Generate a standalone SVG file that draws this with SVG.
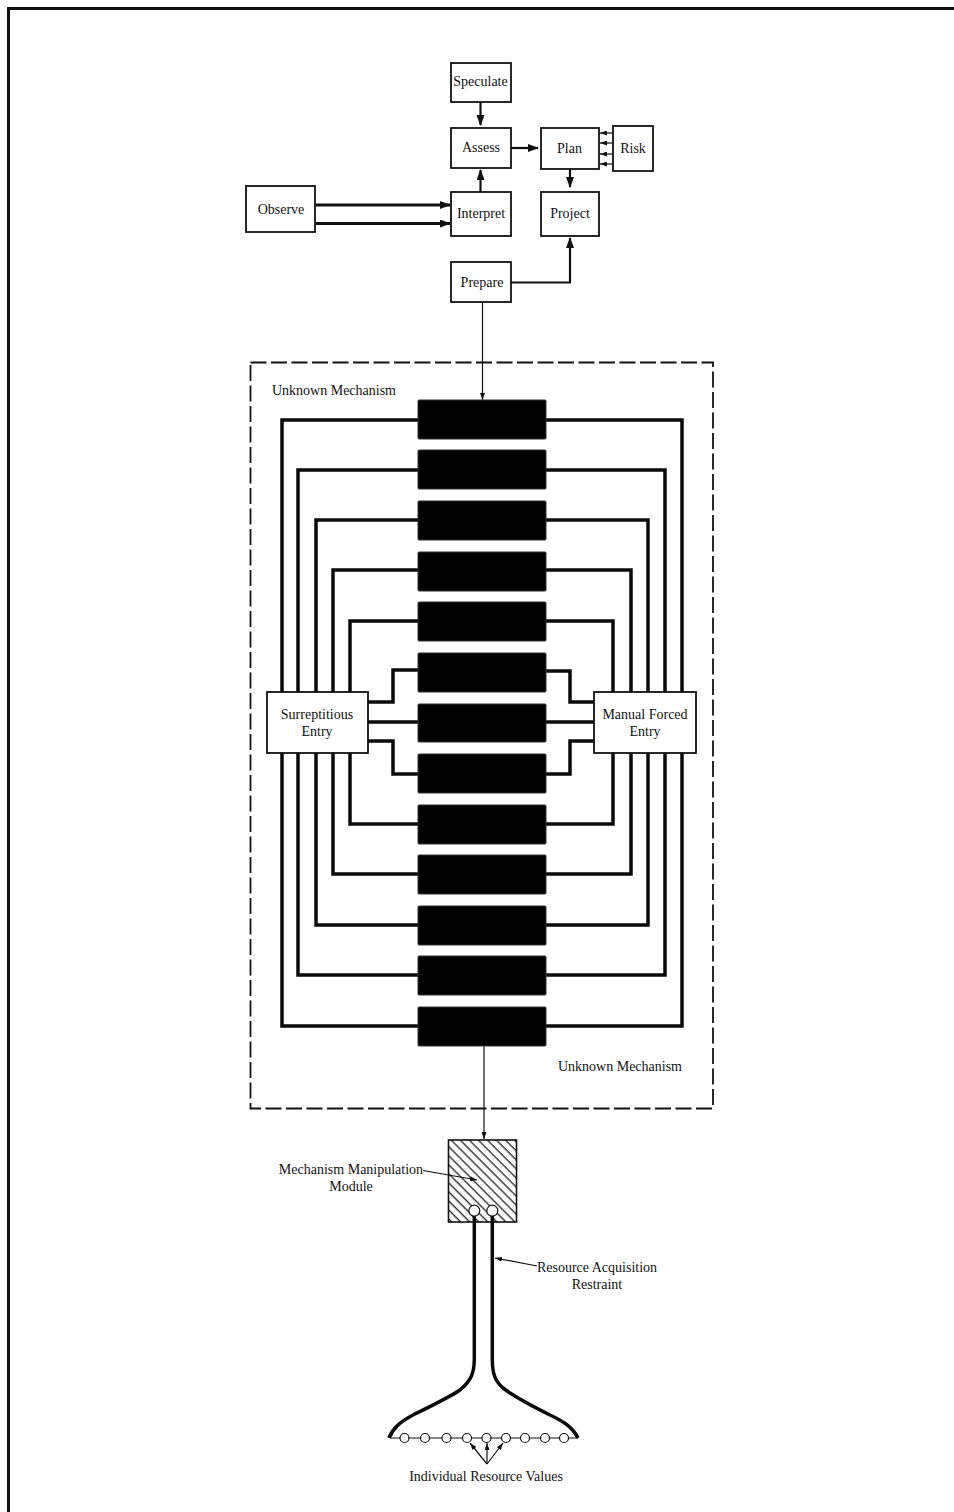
<svg xmlns="http://www.w3.org/2000/svg" width="954" height="1512" viewBox="0 0 954 1512">
<style>
.t{font-family:"Liberation Serif","Times New Roman",serif;font-size:14px;fill:#111;text-anchor:middle}
.b{fill:#fff;stroke:#111;stroke-width:1.8}
.k{fill:#000;stroke:#333;stroke-width:1}
.w{fill:none;stroke:#0a0a0a;stroke-width:3.5}
.a{fill:none;stroke:#111;stroke-width:2.2}
.o{fill:none;stroke:#111;stroke-width:2.8}
.n{fill:none;stroke:#111;stroke-width:1.2}
.c{fill:#fff;stroke:#111;stroke-width:1.2}
</style>
<defs>
<marker id="ah" markerWidth="11" markerHeight="8" refX="10" refY="4" orient="auto" markerUnits="userSpaceOnUse"><path d="M0 0L11 4L0 8Z" fill="#111"/></marker>
<marker id="as" markerWidth="7" markerHeight="5" refX="7" refY="2.5" orient="auto" markerUnits="userSpaceOnUse"><path d="M0 0L7 2.5L0 5Z" fill="#111"/></marker>
<pattern id="hatch" width="6.4" height="6.4" patternUnits="userSpaceOnUse" patternTransform="rotate(45)"><rect width="6.4" height="6.4" fill="#fff"/><line x1="0" y1="0.7" x2="6.4" y2="0.7" stroke="#222" stroke-width="1.3"/></pattern>
</defs>
<rect width="954" height="1512" fill="#fff"/>
<path id="frame" d="M8.500 1512V8.500H954" fill="none" stroke="#111" stroke-width="3"/>
<rect id="boundary" x="250.500" y="362.500" width="462.500" height="746" fill="none" stroke="#111" stroke-width="1.800" stroke-dasharray="16 4.500"/>
<g id="connectors">
<path class="a" marker-end="url(#ah)" d="M480.500 102V125"/>
<path class="a" marker-end="url(#ah)" d="M511 148H538"/>
<path class="a" marker-end="url(#ah)" d="M480.500 192V170"/>
<path class="a" marker-end="url(#ah)" d="M570 168V187"/>
<path class="o" marker-end="url(#ah)" d="M316 205H450"/>
<path class="o" marker-end="url(#ah)" d="M316 223.500H450"/>
<path class="a" marker-end="url(#ah)" d="M511 282.500H570V238"/>
<path class="n" marker-end="url(#as)" d="M612 133H600"/>
<path class="n" marker-end="url(#as)" d="M612 143H600"/>
<path class="n" marker-end="url(#as)" d="M612 154H600"/>
<path class="n" marker-end="url(#as)" d="M612 164H600"/>
<path class="n" marker-end="url(#as)" d="M482.500 302V400"/>
<path class="n" marker-end="url(#as)" d="M484 1045V1139"/>
<path class="w" d="M418 420H282V1026H418"/>
<path class="w" d="M418 470H298V975H418"/>
<path class="w" d="M418 520H316V925H418"/>
<path class="w" d="M418 570H333V874H418"/>
<path class="w" d="M418 621H350V824H418"/>
<path class="w" d="M546 420H682V1026H546"/>
<path class="w" d="M546 470H665V975H546"/>
<path class="w" d="M546 520H648V925H546"/>
<path class="w" d="M546 570H631V874H546"/>
<path class="w" d="M546 621H613V824H546"/>
<path class="w" d="M368 702H393V670H418"/>
<path class="w" d="M368 722H418"/>
<path class="w" d="M368 741H393V774H418"/>
<path class="w" d="M546 671H570V702H594"/>
<path class="w" d="M546 722H594"/>
<path class="w" d="M546 774H570V741H594"/>
<path class="n" d="M390 1438H578"/>
<path class="n" marker-end="url(#as)" d="M487 1464L470 1443"/>
<path class="n" marker-end="url(#as)" d="M487 1464V1443"/>
<path class="n" marker-end="url(#as)" d="M487 1464L503 1443"/>
</g>
<g id="speculate"><rect class="b" x="451" y="63" width="60" height="39"/><text class="t" x="480.500" y="86">Speculate</text></g>
<g id="assess"><rect class="b" x="451" y="128" width="60" height="40"/><text class="t" x="481" y="152">Assess</text></g>
<g id="plan"><rect class="b" x="541" y="128" width="58" height="41"/><text class="t" x="569.500" y="153">Plan</text></g>
<g id="risk"><rect class="b" x="613" y="126" width="40" height="45"/><text class="t" x="633" y="153">Risk</text></g>
<g id="observe"><rect class="b" x="246" y="186" width="69" height="46"/><text class="t" x="281" y="214">Observe</text></g>
<g id="interpret"><rect class="b" x="451" y="192" width="60" height="44"/><text class="t" x="481" y="218">Interpret</text></g>
<g id="project"><rect class="b" x="541" y="192" width="58" height="44"/><text class="t" x="570" y="218">Project</text></g>
<g id="prepare"><rect class="b" x="451" y="262" width="60" height="40"/><text class="t" x="482" y="287">Prepare</text></g>
<g id="mech-label-top"><text class="t" x="334" y="395">Unknown Mechanism</text></g>
<g id="mech-label-bottom"><text class="t" x="620" y="1071">Unknown Mechanism</text></g>
<g id="mech1"><rect class="k" x="418" y="400" width="128" height="39" rx="1"/></g>
<g id="mech2"><rect class="k" x="418" y="450" width="128" height="39" rx="1"/></g>
<g id="mech3"><rect class="k" x="418" y="501" width="128" height="39" rx="1"/></g>
<g id="mech4"><rect class="k" x="418" y="552" width="128" height="39" rx="1"/></g>
<g id="mech5"><rect class="k" x="418" y="602" width="128" height="39" rx="1"/></g>
<g id="mech6"><rect class="k" x="418" y="653" width="128" height="39" rx="1"/></g>
<g id="mech7"><rect class="k" x="418" y="704" width="128" height="38" rx="1"/></g>
<g id="mech8"><rect class="k" x="418" y="754" width="128" height="39" rx="1"/></g>
<g id="mech9"><rect class="k" x="418" y="805" width="128" height="39" rx="1"/></g>
<g id="mech10"><rect class="k" x="418" y="855" width="128" height="39" rx="1"/></g>
<g id="mech11"><rect class="k" x="418" y="906" width="128" height="39" rx="1"/></g>
<g id="mech12"><rect class="k" x="418" y="956" width="128" height="39" rx="1"/></g>
<g id="mech13"><rect class="k" x="418" y="1007" width="128" height="39" rx="1"/></g>
<g id="surreptitious"><rect class="b" x="267" y="692" width="101" height="61"/><text class="t" x="317" y="719">Surreptitious</text><text class="t" x="317" y="736">Entry</text></g>
<g id="manual"><rect class="b" x="594" y="692" width="102" height="61"/><text class="t" x="645" y="719">Manual Forced</text><text class="t" x="645" y="736">Entry</text></g>
<g id="module"><rect x="448.500" y="1140" width="68" height="82" fill="url(#hatch)" stroke="#111" stroke-width="1.600"/></g>
<g id="restraint-lines">
<path class="w" d="M474.300 1215V1360C474 1372 472 1380 460 1390C450 1397 425 1409 413 1415C400 1422 393 1428 389 1438"/>
<path class="w" d="M492.300 1215V1360C492.500 1372 494 1380 503 1388C512 1395 538 1409 550 1415C565 1422 573 1428 578 1438"/>
</g>
<g id="ports"><circle class="c" cx="474.300" cy="1210.700" r="5.500"/><circle class="c" cx="492.300" cy="1210.700" r="5.500"/></g>
<g id="leaders">
<path class="n" marker-end="url(#as)" d="M423 1170.500L477 1180"/>
<path class="n" marker-end="url(#as)" d="M537 1266L495 1258"/>
</g>
<g id="module-label"><text class="t" x="351" y="1174">Mechanism Manipulation</text><text class="t" x="351" y="1191">Module</text></g>
<g id="restraint-label"><text class="t" x="597" y="1272">Resource Acquisition</text><text class="t" x="597" y="1289">Restraint</text></g>
<g id="values"><circle class="c" cx="404.500" cy="1438" r="4.500"/><circle class="c" cx="425" cy="1438" r="4.500"/><circle class="c" cx="446.500" cy="1438" r="4.500"/><circle class="c" cx="467" cy="1438" r="4.500"/><circle class="c" cx="486.500" cy="1438" r="4.500"/><circle class="c" cx="506" cy="1438" r="4.500"/><circle class="c" cx="525" cy="1438" r="4.500"/><circle class="c" cx="545" cy="1438" r="4.500"/><circle class="c" cx="564" cy="1438" r="4.500"/><text class="t" x="486" y="1481">Individual Resource Values</text></g>
</svg>
